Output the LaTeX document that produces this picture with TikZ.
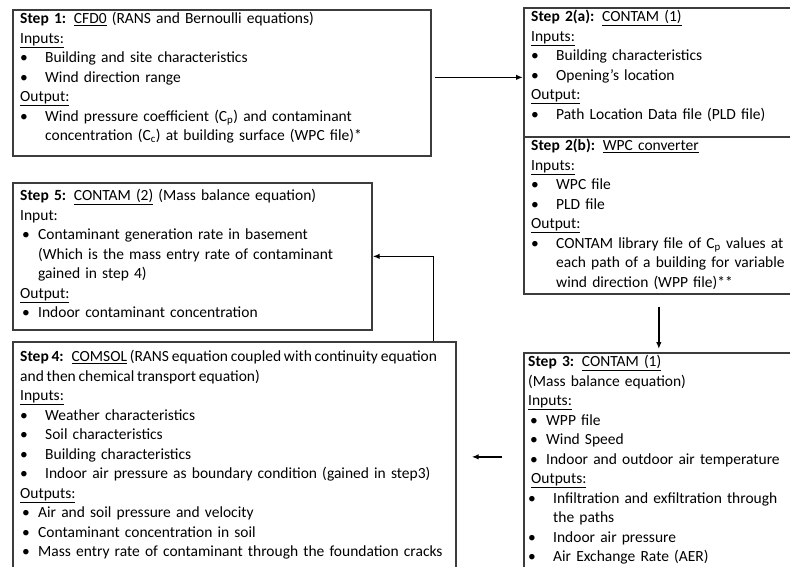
\documentclass[tikz,border=0pt]{standalone}
\usepackage{fontspec}
\setmainfont{Carlito}
\usetikzlibrary{arrows.meta}

\definecolor{boxgray}{HTML}{3C3C3C}

% bullet lines: wide and narrow
\newcommand{\wb}{\par\noindent\hangindent=25pt\hangafter=1\makebox[25pt][l]{\textbullet}}
\newcommand{\nb}{\par\noindent\hangindent=18pt\hangafter=1\hspace*{2pt}\makebox[16pt][l]{\textbullet}}

\begin{document}
\begin{tikzpicture}[x=1pt,y=-1pt,
    stepbox/.style={draw=boxgray,line width=1.7pt,anchor=north west,inner sep=0pt},
    steptext/.style={anchor=north west,inner xsep=8pt,inner ysep=3pt,text width=#1,
      align=left,font=\fontsize{15.5}{19.5}\selectfont},
    arr/.style={line width=1.5pt,-{Latex[length=7pt,width=5.5pt]}}]

      \useasboundingbox (0,0) rectangle (790,566);
      \clip (0,0) rectangle (790,566);

      % boxes
      \node[stepbox,minimum width=418,minimum height=146] (s1)  at (12,9)   {};
      \node[stepbox,minimum width=270,minimum height=129] (s2a) at (523,7)  {};
      \node[stepbox,minimum width=270,minimum height=157] (s2b) at (523,136) {};
      \node[stepbox,minimum width=359,minimum height=147] (s5)  at (12,182) {};
      \node[stepbox,minimum width=443,minimum height=230] (s4)  at (12,341) {};
      \node[stepbox,minimum width=270,minimum height=240] (s3)  at (523,352) {};

      % texts
      \node[steptext=402] (s1t) at (s1.north west) {%
        \textbf{Step 1:} \underline{CFD0} (RANS and Bernoulli equations)
        \par\underline{Inputs:}
        \wb Building and site characteristics
        \wb Wind direction range
        \par\underline{Output:}
        \wb Wind pressure coefficient (C\textsubscript{p}) and contaminant\newline
            concentration (C\textsubscript{c}) at building surface (WPC file)*\par};

      \node[steptext=300] (s2at) at (s2a.north west) {%
        \textbf{Step 2(a):} \underline{CONTAM (1)}
        \par\underline{Inputs:}
        \wb Building characteristics
        \wb Opening’s location
        \par\underline{Output:}
        \wb Path Location Data file (PLD file)\par};

      \node[steptext=300] (s2bt) at (s2b.north west) {%
        \textbf{Step 2(b):} \underline{WPC converter}
        \par\underline{Inputs:}
        \wb WPC file
        \wb PLD file
        \par\underline{Output:}
        \wb CONTAM library file of C\textsubscript{p} values at\newline
            each path of a building for variable\newline
            wind direction (WPP file)**\par};

      \node[steptext=343,yshift=-4pt] (s5t) at (s5.north west) {%
        \textbf{Step 5:} \underline{CONTAM (2)} (Mass balance equation)
        \par Input:
        \nb Contaminant generation rate in basement\newline
            (Which is the mass entry rate of contaminant\newline
            gained in step 4)
        \par\underline{Output:}
        \nb Indoor contaminant concentration\par};

      \node[steptext=440,yshift=-6pt] (s4t) at (s4.north west) {%
        {\spaceskip=2.8pt plus 1pt\textbf{Step 4:} \underline{COMSOL} (RANS equation coupled with continuity equation\\
        and then chemical transport equation)\par}
        \underline{Inputs:}
        \wb Weather characteristics
        \wb Soil characteristics
        \wb Building characteristics
        \wb Indoor air pressure as boundary condition (gained in step3)
        \par\underline{Outputs:}
        \nb Air and soil pressure and velocity
        \nb Contaminant concentration in soil
        \nb Mass entry rate of contaminant through the foundation cracks\par};

      \node[steptext=300,inner xsep=5pt] (s3t) at (s3.north west) {%
        \textbf{Step 3:} \underline{CONTAM (1)}
        \par (Mass balance equation)
        \par\underline{Inputs:}
        \nb WPP file
        \nb Wind Speed
        \nb Indoor and outdoor air temperature
        \par\hspace*{3pt}\underline{Outputs:}
        \wb Infiltration and exfiltration through\newline
            the paths
        \wb Indoor air pressure
        \wb Air Exchange Rate (AER)\par};

      % connectors
      \draw[arr,shorten <=3pt] ([yshift=-5pt]s2a.west -| s1.east) -- ([yshift=-5pt]s2a.west);
      \draw[arr,shorten <=12pt,shorten >=3pt] (s2b.south) -- (s3.north);
      \draw[arr,shorten <=21pt,shorten >=15pt] (s4.east -| s3.west) -- (s4.east);
      \draw[arr] ([xshift=-23pt]s4.north east) |- (s5.east);

    \end{tikzpicture}
\end{document}
